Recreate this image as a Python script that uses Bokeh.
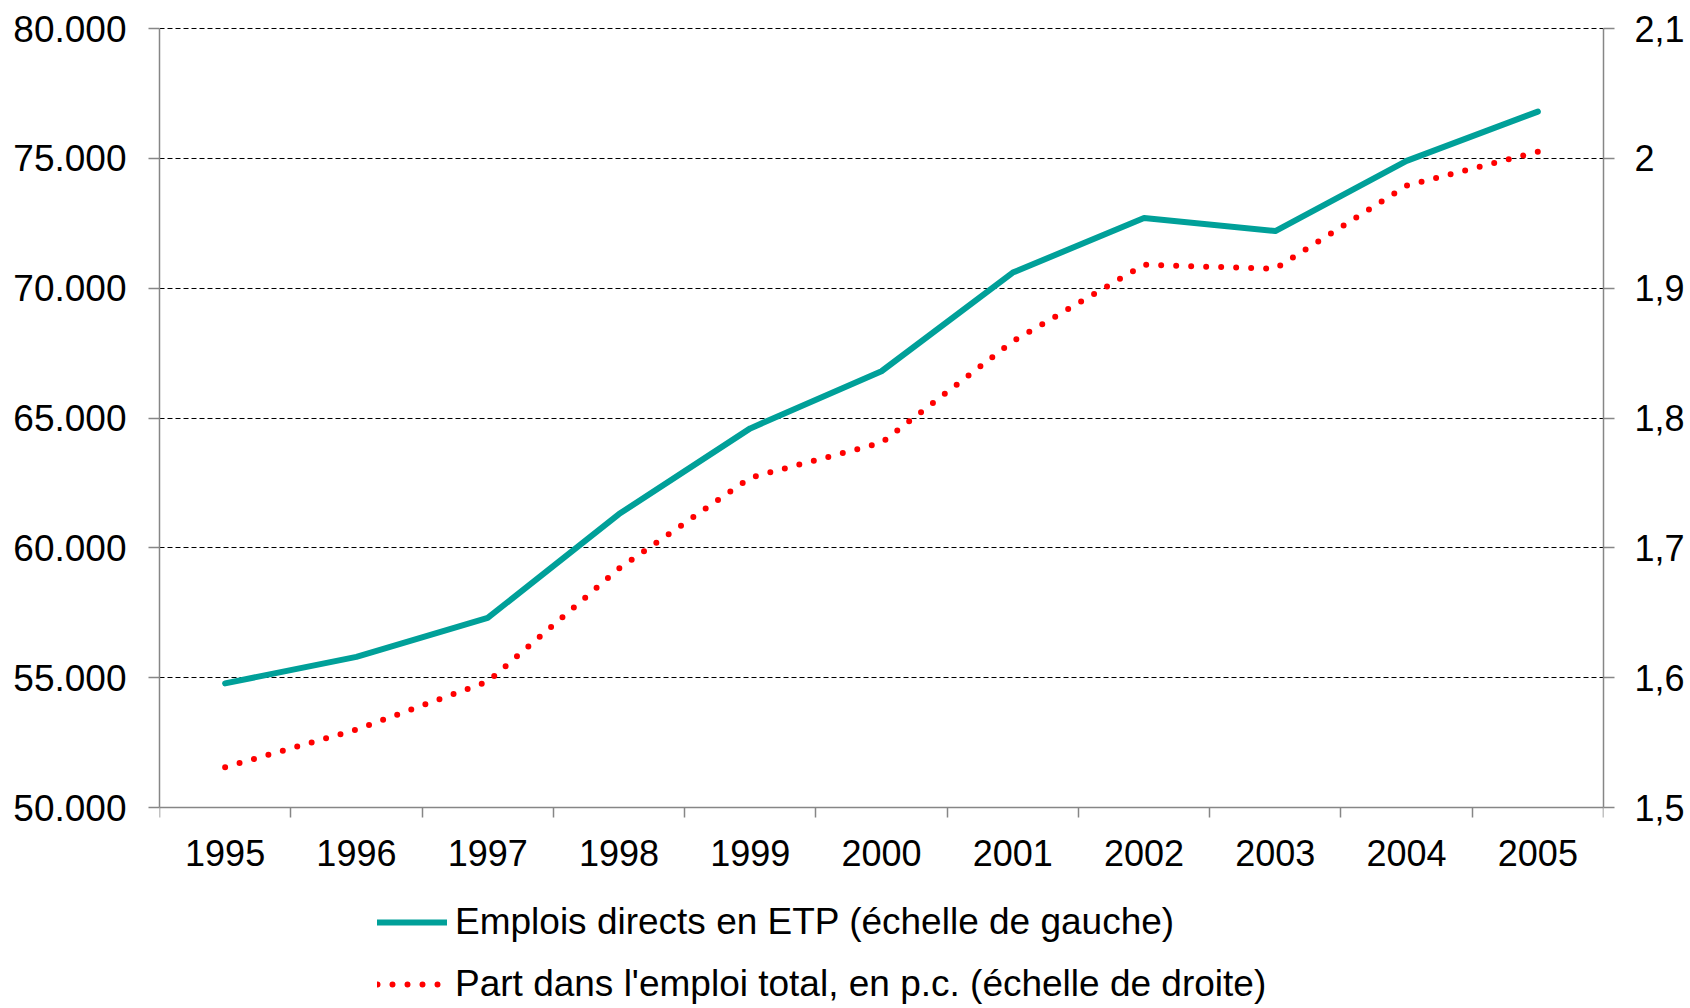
from bokeh.plotting import figure
from bokeh.models import (Range1d, LinearAxis, FixedTicker, Legend, LegendItem,
                          Grid, ColumnDataSource)
from bokeh.embed import file_html
from bokeh.resources import INLINE

# ---- data ----
years = ["1995", "1996", "1997", "1998", "1999", "2000",
         "2001", "2002", "2003", "2004", "2005"]
emplois = [54780, 55800, 57300, 61300, 64600, 66800,
           70600, 72700, 72200, 74900, 76800]
part = [1.531, 1.560, 1.597, 1.684, 1.754, 1.781,
        1.859, 1.918, 1.915, 1.979, 2.005]
left_ticks = [50000, 55000, 60000, 65000, 70000, 75000, 80000]
left_labels = ["50.000", "55.000", "60.000", "65.000", "70.000", "75.000", "80.000"]
right_ticks = [1.5, 1.6, 1.7, 1.8, 1.9, 2.0, 2.1]
right_labels = ["1,5", "1,6", "1,7", "1,8", "1,9", "2", "2,1"]
label_emplois = "Emplois directs en ETP (échelle de gauche)"
label_part = "Part dans l'emploi total, en p.c. (échelle de droite)"

FONT = "Liberation Sans"
FS = "36px"
LEG_FS = "37px"
AXIS_COLOR = "#868686"
TEAL = "#00A099"
RED = "#FF0000"

# ---- layout (pixels) ----
W, H = 1690, 1008
LEFT, RIGHT = 159, 1603          # plot area x extent
TOP_AXIS, BOTTOM_AXIS = 28, 807  # pixel rows of top and bottom value ticks
FRAME_TOP = 20                   # frame starts a bit above the top gridline

def stretch(lo, hi):
    per_px = (hi - lo) / (BOTTOM_AXIS - TOP_AXIS)
    return Range1d(lo - (H - BOTTOM_AXIS) * per_px, hi + (TOP_AXIS - FRAME_TOP) * per_px)

xc = [i + 0.5 for i in range(len(years))]
src = ColumnDataSource(dict(x=xc, emplois=emplois, part=part))

p = figure(width=W, height=H, output_backend="svg", toolbar_location=None,
           x_range=Range1d(0, len(years)),
           y_range=stretch(left_ticks[0], left_ticks[-1]),
           x_axis_location=None, y_axis_location=None,
           min_border_left=LEFT, min_border_right=W - RIGHT, min_border_top=FRAME_TOP,
           min_border_bottom=0)
p.outline_line_color = None
p.background_fill_color = "white"
p.border_fill_color = "white"
p.grid.visible = False
p.extra_y_ranges = {"right": stretch(right_ticks[0], right_ticks[-1])}

# grid
grid = Grid(dimension=1, ticker=FixedTicker(ticks=left_ticks[1:]),
            grid_line_color="#000000", grid_line_width=1.1, grid_line_dash="5 3")
p.add_layout(grid)

# left axis
ly = LinearAxis(ticker=FixedTicker(ticks=left_ticks),
                bounds=(left_ticks[0], left_ticks[-1]),
                major_label_overrides={t: l for t, l in zip(left_ticks, left_labels)})
# right axis
ry = LinearAxis(y_range_name="right", ticker=FixedTicker(ticks=right_ticks),
                bounds=(right_ticks[0], right_ticks[-1]),
                major_label_overrides={t: l for t, l in zip(right_ticks, right_labels)})
# bottom boundary ticks
bx = LinearAxis(ticker=FixedTicker(ticks=list(range(len(years) + 1))),
                fixed_location=left_ticks[0],
                major_label_overrides={i: "" for i in range(len(years) + 1)})
# bottom labels
bl = LinearAxis(ticker=FixedTicker(ticks=xc),
                fixed_location=left_ticks[0],
                major_label_overrides={x: y for x, y in zip(xc, years)})

for ax in (ly, ry, bx, bl):
    ax.axis_line_color = AXIS_COLOR
    ax.axis_line_width = 1.5
    ax.major_tick_line_color = AXIS_COLOR
    ax.major_tick_line_width = 1.5
    ax.major_tick_in = 0
    ax.major_tick_out = 11
    ax.minor_tick_line_color = None
    ax.major_label_text_font = FONT
    ax.major_label_text_font_size = FS
    ax.major_label_text_color = "black"

ly.major_label_standoff = 22
ly.major_label_text_font_size = "37px"
ry.major_label_standoff = 20
bx.major_tick_out = 10
bx.major_label_standoff = 0
bx.major_label_text_font_size = "1px"
bl.axis_line_color = None
bl.major_tick_line_color = None
bl.major_tick_out = 0
bl.major_label_standoff = 32

p.add_layout(ly, "left")
p.add_layout(ry, "right")
p.add_layout(bx, "below")
p.add_layout(bl, "below")

# lines
r1 = p.line("x", "emplois", source=src, line_color=TEAL, line_width=6,
            line_join="round", line_cap="round")
r2 = p.line("x", "part", source=src, y_range_name="right", line_color=RED,
            line_width=6, line_dash="0 15", line_cap="round", line_join="round")

legend = Legend(items=[LegendItem(label=label_emplois, renderers=[r1]),
                       LegendItem(label=label_part, renderers=[r2])],
                location=(377 - LEFT, 3), orientation="vertical",
                label_text_font=FONT, label_text_font_size=LEG_FS,
                label_text_color="black",
                glyph_width=70, glyph_height=40, label_height=40,
                label_standoff=8, spacing=20, padding=0, margin=0,
                border_line_color=None, background_fill_alpha=0)
p.add_layout(legend)

open("out.html", "w").write(file_html(p, INLINE))
